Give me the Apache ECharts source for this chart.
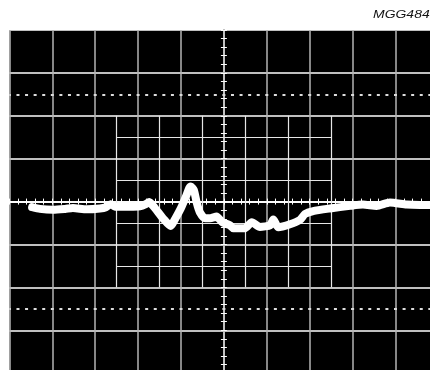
<!DOCTYPE html>
<html>
<head>
<meta charset="utf-8">
<script src="https://cdn.jsdelivr.net/npm/echarts@6/dist/echarts.min.js"></script>
<style>
html,body{margin:0;padding:0;background:#fff;}
#chart{width:430px;height:370px;}
</style>
</head>
<body>
<div id="chart"></div>
<script>
// Screen in divisions: x -5..5 (10 div), y -4..4 (8 div)
const traceX = [-4.47,-4.29,-3.98,-3.70,-3.52,-3.20,-2.89,-2.75,-2.64,-2.54,-2.42,-2.19,-1.96,-1.82,-1.74,-1.61,-1.42,-1.24,-1.14,-1.00,-0.88,-0.81,-0.77,-0.70,-0.63,-0.56,-0.44,-0.32,-0.17,-0.04,0.14,0.22,0.49,0.65,0.84,1.08,1.15,1.27,1.54,1.77,1.89,2.08,2.47,2.94,3.24,3.56,3.87,4.26,4.57,4.85];
const traceY = [-0.13,-0.17,-0.19,-0.17,-0.15,-0.18,-0.16,-0.13,-0.06,-0.12,-0.12,-0.12,-0.11,-0.06,-0.01,-0.15,-0.39,-0.57,-0.41,-0.15,0.13,0.31,0.35,0.27,-0.04,-0.25,-0.39,-0.39,-0.35,-0.48,-0.55,-0.62,-0.62,-0.48,-0.59,-0.55,-0.42,-0.60,-0.53,-0.43,-0.29,-0.22,-0.16,-0.10,-0.07,-0.10,-0.02,-0.07,-0.08,-0.08];
const xRange = [-5, 5];
const yRange = [-4, 4];
const innerHalfX = [-2.5,-1.5,-0.5,0.5,1.5,2.5];
const innerHalfY = [-1.5,-0.5,0.5,1.5];
const innerBoxX = [-2.5, 2.5];
const innerBoxY = [-2, 2];
const dottedY = [-2.5, 2.5];
const label = 'MGG484';

const chart = echarts.init(document.getElementById('chart'), null, {renderer:'canvas'});

const innerLines = [];
innerHalfX.forEach(x => innerLines.push([{coord:[x, innerBoxY[0]]},{coord:[x, innerBoxY[1]]}]));
innerHalfY.forEach(y => innerLines.push([{coord:[innerBoxX[0], y]},{coord:[innerBoxX[1], y]}]));
const dotLines = dottedY.map(y => [{coord:[xRange[0], y]},{coord:[xRange[1], y]}]);

const pxPerDiv = 429 / 10;
const dotStep = pxPerDiv / 5;

function centerX(pos){
  return {
    type:'value', min:xRange[0], max:xRange[1], interval:1, position:pos,
    axisLine:{show:true, onZero:true, onZeroAxisIndex:0, lineStyle:{color:'#ffffff', width:1.5}},
    axisTick:{show:true, length:3, lineStyle:{color:'#ffffff', width:1}},
    minorTick:{show:true, splitNumber:5, length:3, lineStyle:{color:'#ffffff', width:1}},
    axisLabel:{show:false}, splitLine:{show:false}
  };
}
function centerY(pos){
  return {
    type:'value', min:yRange[0], max:yRange[1], interval:1, position:pos,
    axisLine:{show:true, onZero:true, onZeroAxisIndex:0, lineStyle:{color:'#c0c0c0', width:2}},
    axisTick:{show:true, length:3, lineStyle:{color:'#ffffff', width:1}},
    minorTick:{show:true, splitNumber:5, length:3, lineStyle:{color:'#ffffff', width:1}},
    axisLabel:{show:false}, splitLine:{show:false}
  };
}

chart.setOption({
  animation:false,
  backgroundColor:'#ffffff',
  grid:{left:9.4, top:30, width:429, height:343.2, show:true, backgroundColor:'#000000', borderWidth:0, containLabel:false, outerBoundsMode:'none'},
  graphic:[{type:'text', x:373, y:9, scaleX:1.27, scaleY:1, z:10,
    style:{text:label, font:'italic 11px "Liberation Sans", Arial, sans-serif', fill:'#111', verticalAlign:'top'}}],
  xAxis:[
    {type:'value', min:xRange[0], max:xRange[1], interval:1,
     axisLine:{show:false, onZero:false}, axisTick:{show:false}, axisLabel:{show:false},
     splitLine:{show:true, lineStyle:{color:'#b4b4b4', width:1.5}}},
    centerX('bottom'), centerX('top')
  ],
  yAxis:[
    {type:'value', min:yRange[0], max:yRange[1], interval:1,
     axisLine:{show:false, onZero:false}, axisTick:{show:false}, axisLabel:{show:false},
     splitLine:{show:true, lineStyle:{color:'#ffffff', width:1.5}}},
    centerY('left'), centerY('right')
  ],
  series:[
    {type:'line', data:[], xAxisIndex:0, yAxisIndex:0, silent:true, z:1,
     markLine:{silent:true, symbol:'none', label:{show:false},
       lineStyle:{color:'#e6e6e6', width:1.2, type:'solid'},
       data:innerLines}},
    {type:'line', data:[], xAxisIndex:0, yAxisIndex:0, silent:true, z:1,
     markLine:{silent:true, symbol:'none', label:{show:false},
       lineStyle:{color:'#dddddd', width:2, type:[3, dotStep-3], dashOffset:1.5},
       data:dotLines}},
    {type:'line', xAxisIndex:0, yAxisIndex:0, z:5, showSymbol:false, smooth:0.2,
     data:traceX.map((x,i)=>[x, traceY[i]]),
     lineStyle:{color:'#ffffff', width:8, cap:'round', join:'round'}}
  ]
});
</script>
</body>
</html>
